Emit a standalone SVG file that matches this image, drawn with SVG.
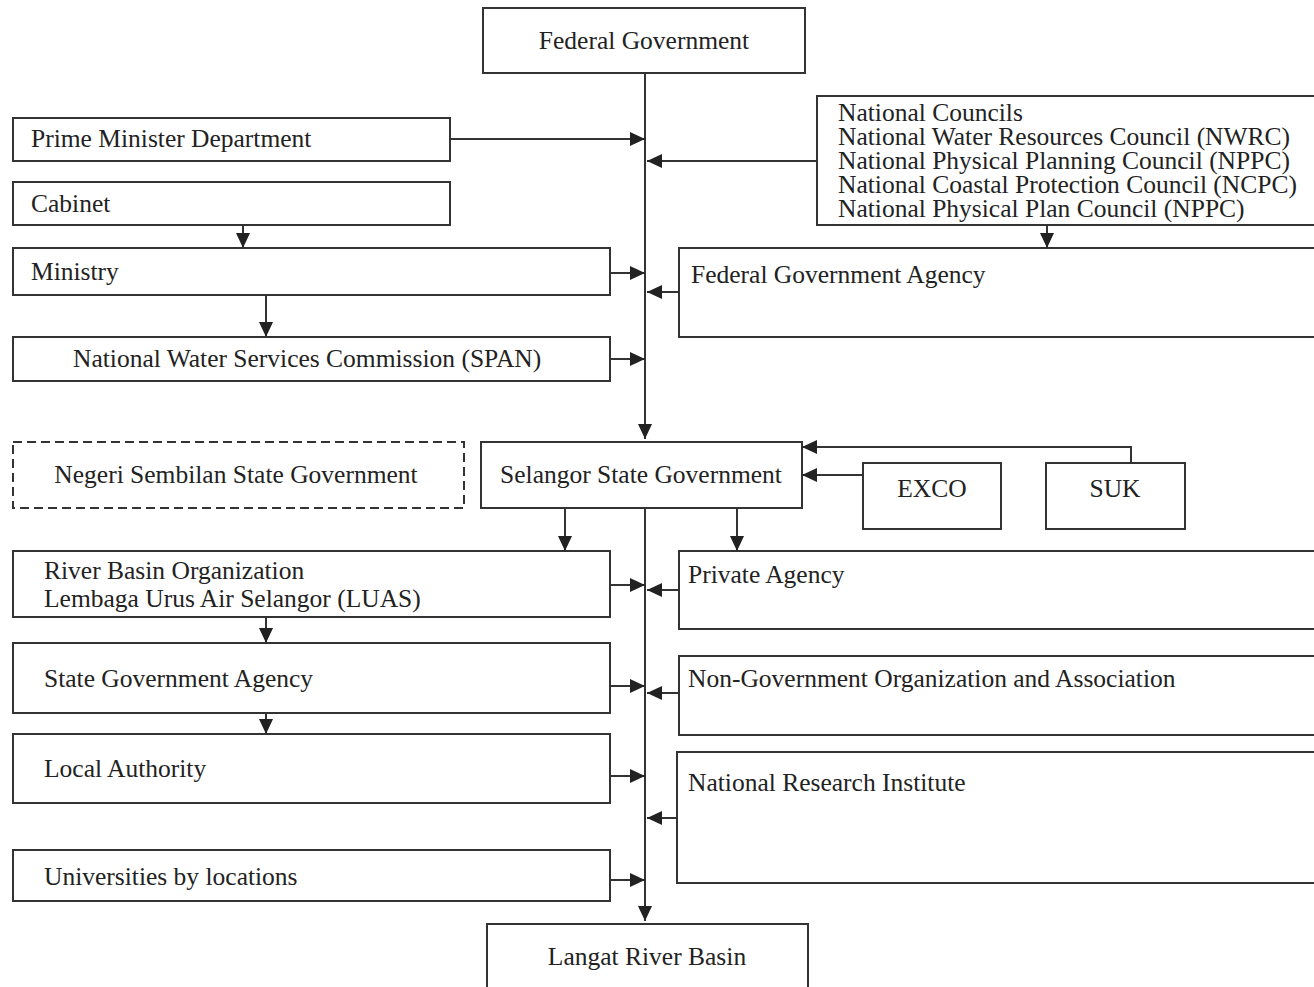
<svg xmlns="http://www.w3.org/2000/svg" width="1314" height="987" viewBox="0 0 1314 987">
<style>
.b{fill:#fff;stroke:#333;stroke-width:2}
.d{fill:#fff;stroke:#333;stroke-width:2;stroke-dasharray:9 5}
.t{font-family:"Liberation Serif",serif;font-size:25.5px;fill:#222}
.c{text-anchor:middle}
.l{fill:none;stroke:#333;stroke-width:2}
</style>
<defs>
<marker id="a" markerUnits="userSpaceOnUse" markerWidth="16" markerHeight="16" refX="15" refY="8" orient="auto">
<path d="M0,1 L15,8 L0,15 Z" fill="#222"/>
</marker>
</defs>
<rect width="1314" height="987" fill="#fff"/>
<g id="federal"><rect class="b" x="483" y="8" width="322" height="65"/><text class="t c" x="644" y="49">Federal Government</text></g>
<g id="pmd"><rect class="b" x="13" y="118" width="437" height="43"/><text class="t" x="31" y="147">Prime Minister Department</text></g>
<g id="cabinet"><rect class="b" x="13" y="182" width="437" height="43"/><text class="t" x="31" y="212">Cabinet</text></g>
<g id="ministry"><rect class="b" x="13" y="248" width="597" height="47"/><text class="t" x="31" y="280">Ministry</text></g>
<g id="span"><rect class="b" x="13" y="337" width="597" height="44"/><text class="t" x="73" y="367">National Water Services Commission (SPAN)</text></g>
<g id="councils"><rect class="b" x="817" y="96" width="510" height="129"/>
<text class="t" x="838" y="121">National Councils</text>
<text class="t" x="838" y="145">National Water Resources Council (NWRC)</text>
<text class="t" x="838" y="169">National Physical Planning Council (NPPC)</text>
<text class="t" x="838" y="193">National Coastal Protection Council (NCPC)</text>
<text class="t" x="838" y="217">National Physical Plan Council (NPPC)</text></g>
<g id="fga"><rect class="b" x="679" y="248" width="650" height="89"/><text class="t" x="691" y="283">Federal Government Agency</text></g>
<g id="negeri"><rect class="d" x="13" y="442" width="451" height="66"/><text class="t c" x="236" y="483">Negeri Sembilan State Government</text></g>
<g id="selangor"><rect class="b" x="481" y="442" width="321" height="66"/><text class="t c" x="641" y="483">Selangor State Government</text></g>
<g id="exco"><rect class="b" x="863" y="463" width="138" height="66"/><text class="t c" x="932" y="497">EXCO</text></g>
<g id="suk"><rect class="b" x="1046" y="463" width="139" height="66"/><text class="t c" x="1115" y="497">SUK</text></g>
<g id="rbo"><rect class="b" x="13" y="551" width="597" height="66"/><text class="t" x="44" y="579">River Basin Organization</text><text class="t" x="44" y="607">Lembaga Urus Air Selangor (LUAS)</text></g>
<g id="sga"><rect class="b" x="13" y="643" width="597" height="70"/><text class="t" x="44" y="687">State Government Agency</text></g>
<g id="la"><rect class="b" x="13" y="734" width="597" height="69"/><text class="t" x="44" y="777">Local Authority</text></g>
<g id="uni"><rect class="b" x="13" y="850" width="597" height="51"/><text class="t" x="44" y="885">Universities by locations</text></g>
<g id="private"><rect class="b" x="679" y="551" width="650" height="78"/><text class="t" x="688" y="583">Private Agency</text></g>
<g id="ngo"><rect class="b" x="679" y="656" width="650" height="79"/><text class="t" x="688" y="687">Non-Government Organization and Association</text></g>
<g id="nri"><rect class="b" x="677" y="752" width="650" height="131"/><text class="t" x="688" y="791">National Research Institute</text></g>
<g id="langat"><rect class="b" x="487" y="924" width="321" height="80"/><text class="t c" x="647" y="965">Langat River Basin</text></g>
<g id="connectors">
<line class="l" x1="645" y1="73" x2="645" y2="439" marker-end="url(#a)"/>
<line class="l" x1="645" y1="508" x2="645" y2="921" marker-end="url(#a)"/>
<line class="l" x1="450" y1="139" x2="645" y2="139" marker-end="url(#a)"/>
<line class="l" x1="817" y1="161" x2="647" y2="161" marker-end="url(#a)"/>
<line class="l" x1="243" y1="225" x2="243" y2="248" marker-end="url(#a)"/>
<line class="l" x1="610" y1="273" x2="645" y2="273" marker-end="url(#a)"/>
<line class="l" x1="679" y1="292" x2="647" y2="292" marker-end="url(#a)"/>
<line class="l" x1="1047" y1="225" x2="1047" y2="248" marker-end="url(#a)"/>
<line class="l" x1="266" y1="295" x2="266" y2="337" marker-end="url(#a)"/>
<line class="l" x1="610" y1="359" x2="645" y2="359" marker-end="url(#a)"/>
<line class="l" x1="863" y1="475" x2="802" y2="475" marker-end="url(#a)"/>
<polyline class="l" points="1131,463 1131,447 802,447" marker-end="url(#a)"/>
<line class="l" x1="565" y1="508" x2="565" y2="551" marker-end="url(#a)"/>
<line class="l" x1="737" y1="508" x2="737" y2="551" marker-end="url(#a)"/>
<line class="l" x1="610" y1="585" x2="645" y2="585" marker-end="url(#a)"/>
<line class="l" x1="679" y1="590" x2="647" y2="590" marker-end="url(#a)"/>
<line class="l" x1="266" y1="617" x2="266" y2="643" marker-end="url(#a)"/>
<line class="l" x1="610" y1="686" x2="645" y2="686" marker-end="url(#a)"/>
<line class="l" x1="679" y1="693" x2="647" y2="693" marker-end="url(#a)"/>
<line class="l" x1="266" y1="713" x2="266" y2="734" marker-end="url(#a)"/>
<line class="l" x1="610" y1="776" x2="645" y2="776" marker-end="url(#a)"/>
<line class="l" x1="677" y1="818" x2="647" y2="818" marker-end="url(#a)"/>
<line class="l" x1="610" y1="880" x2="645" y2="880" marker-end="url(#a)"/>
</g>
</svg>
